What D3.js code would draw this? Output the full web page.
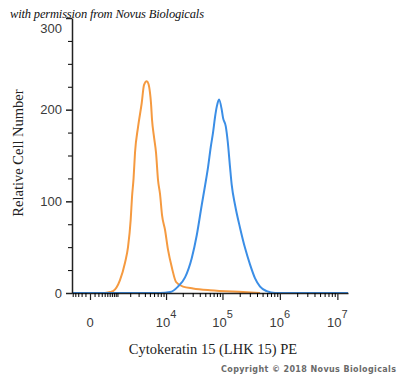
<!DOCTYPE html>
<html>
<head>
<meta charset="utf-8">
<script src="https://cdn.jsdelivr.net/npm/d3@7"></script>
<style>
  body { margin: 0; background: #fff; }
  svg { display: block; }
</style>
</head>
<body>
<svg width="400" height="378"></svg>
<script>
// isotype control (orange) : fluorescence intensity and counts
const isoIntensity = [410, 610, 760, 1160, 1530, 1790, 2050, 2190, 2360, 2530, 2920, 3460, 3850, 4340, 4700, 5030, 5250, 5490, 5990, 6530, 7120, 7750, 8440, 9570, 10870, 12840, 15170, 20200, 30400, 60600, 228500, 452000];
const isoCount = [0, 1, 2, 14, 33, 50, 80, 105, 125, 153, 181, 207, 227, 231, 228, 218, 207, 189, 170, 153, 123, 108, 85, 69, 47, 27, 12, 7, 5, 3, 1, 0];

// Cytokeratin 15 stained (blue)
const ckIntensity = [-528, 7745, 11800, 16440, 21950, 28860, 35390, 43330, 49500, 55860, 62300, 68350, 74150, 79350, 87050, 97000, 102300, 114000, 123650, 135650, 145050, 165850, 202700, 247800, 302850, 370150, 452350, 591000, 823500, 15300000];
const ckCount = [0, 0, 1, 7, 17, 38, 63, 96, 117, 137, 159, 175, 192, 203, 211, 200, 191, 182, 165, 137, 118, 96, 71, 49, 31, 16, 7, 2, 0, 0];

// axis ticks
const yMajor = [0, 100, 200, 300];
const yMinor = [25, 50, 75, 125, 150, 175, 225, 250, 275];
const xMajor = [0, 1e4, 1e5, 1e6, 1e7];
const xMajorLabels = ['0', '4', '5', '6', '7'];

const render = () => {
  const svg = d3.select('svg');

  //scales, x is biexponential-like
  const xScale = d3.scaleSymlog()
    .constant(500)
    .domain([-528, 1.53e7])
    .range([72, 348]);

  const yScale = d3.scaleLinear()
    .domain([0, 300])
    .range([293, 18]);

  //minor ticks on x
  const xMinor = [];
  for (let e = 2; e <= 6; e++) {
    for (let m = 1; m <= 9; m++) {
      const v = m * Math.pow(10, e);
      if (xMajor.includes(v)) continue;
      xMinor.push(v);
      if (-v > -528) xMinor.push(-v);
    }
  }

  //curves
  const line = d3.line()
    .x(d => xScale(d[0]))
    .y(d => yScale(d[1]))
    .curve(d3.curveMonotoneX);

  const ckData = ckIntensity.map((v, i) => [v, ckCount[i]]);
  const isoData = isoIntensity.map((v, i) => [v, isoCount[i]]);

  svg.append('path')
    .attr('d', line(isoData))
    .attr('fill', 'none')
    .attr('stroke', '#f59a40')
    .attr('stroke-width', 2);

  svg.append('path')
    .attr('d', line(ckData))
    .attr('fill', 'none')
    .attr('stroke', '#3b8ee6')
    .attr('stroke-width', 2);

  //y axis
  const yAxis = svg.append('g')
    .attr('transform', 'translate(72,0)')
    .call(d3.axisLeft(yScale).tickValues(yMajor).tickSize(6).tickPadding(4).tickSizeOuter(0));
  svg.append('g')
    .attr('transform', 'translate(72,0)')
    .call(d3.axisLeft(yScale).tickValues(yMinor).tickSize(4).tickFormat('').tickSizeOuter(0))
    .select('.domain').remove();
  yAxis.selectAll('text')
    .attr('font-family', 'Liberation Sans, Arial, sans-serif')
    .attr('font-size', 13)
    .attr('fill', '#3a3a3a');
  //top label sits lower than its tick
  yAxis.selectAll('.tick')
    .filter(d => d === 300)
    .select('text')
    .attr('y', 10);
  yAxis.selectAll('.domain, .tick line')
    .attr('stroke', '#222')
    .attr('stroke-width', 1.5);

  //x axis
  const xAxis = svg.append('g')
    .attr('transform', 'translate(0,293)')
    .call(d3.axisBottom(xScale).tickValues(xMajor).tickSize(7).tickFormat('').tickSizeOuter(0));
  svg.append('g')
    .attr('transform', 'translate(0,293)')
    .call(d3.axisBottom(xScale).tickValues(xMinor).tickSize(4).tickFormat('').tickSizeOuter(0))
    .select('.domain').remove();
  xAxis.selectAll('.domain')
    .attr('stroke', '#222')
    .attr('stroke-width', 1.5);
  xAxis.selectAll('.tick line')
    .attr('stroke', '#222')
    .attr('stroke-width', 1.2);

  //x tick labels with exponent
  const labels = svg.append('g')
    .attr('font-family', 'Liberation Sans, Arial, sans-serif')
    .attr('fill', '#3a3a3a');
  xMajor.forEach((v, i) => {
    const t = labels.append('text')
      .attr('x', xScale(v))
      .attr('y', 327)
      .attr('text-anchor', 'middle')
      .attr('font-size', 13);
    if (v === 0) {
      t.text('0');
    } else {
      t.append('tspan').text('10');
      t.append('tspan')
        .attr('font-size', 11)
        .attr('dy', -9)
        .text(xMajorLabels[i]);
    }
  });

  //axis titles
  svg.append('text')
    .attr('transform', 'translate(23,153) rotate(-90)')
    .attr('text-anchor', 'middle')
    .attr('font-family', 'Liberation Serif, Times New Roman, serif')
    .attr('font-size', 14.5)
    .attr('fill', '#222')
    .text('Relative Cell Number');

  svg.append('text')
    .attr('x', 213)
    .attr('y', 354)
    .attr('text-anchor', 'middle')
    .attr('font-family', 'Liberation Serif, Times New Roman, serif')
    .attr('font-size', 14.5)
    .attr('fill', '#222')
    .text('Cytokeratin 15 (LHK 15) PE');

  //watermarks
  svg.append('text')
    .attr('x', 10)
    .attr('y', 18)
    .attr('font-family', 'Liberation Serif, serif')
    .attr('font-style', 'italic')
    .attr('font-size', 12.5)
    .attr('textLength', 194)
    .attr('fill', '#111')
    .text('with permission from Novus Biologicals');

  svg.append('text')
    .attr('x', 221)
    .attr('y', 372)
    .attr('font-family', 'DejaVu Sans, sans-serif')
    .attr('font-weight', 'bold')
    .attr('font-size', 8)
    .attr('textLength', 175)
    .attr('fill', '#6a6a6a')
    .text('Copyright © 2018 Novus Biologicals');
};

render();
</script>
</body>
</html>
